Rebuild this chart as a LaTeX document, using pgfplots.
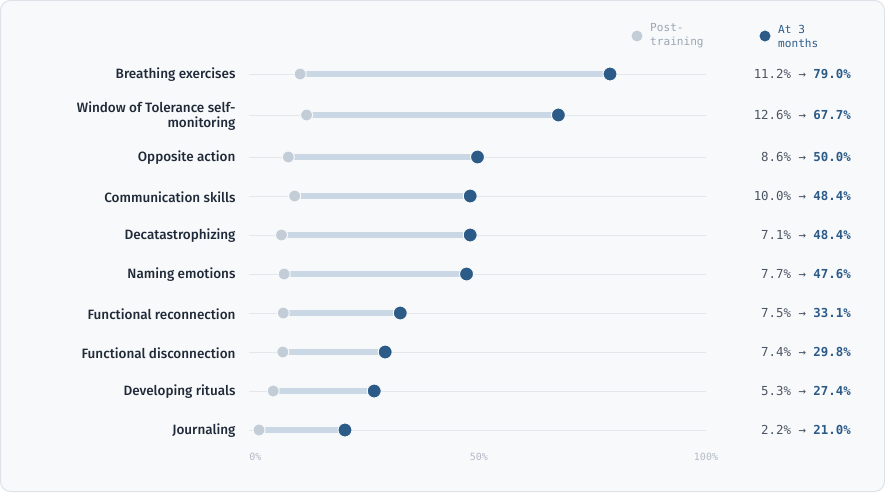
\documentclass[border=0pt]{standalone}
\usepackage{fontspec}
\usepackage{pgfplots}
\pgfplotsset{compat=1.18}
\setmainfont{Fira Sans}
\newfontfamily\labfont{Fira Sans Medium}
\newfontfamily\monofont{DejaVu Sans Mono}
\definecolor{bg}{HTML}{F8F9FB}
\definecolor{frame}{HTML}{DDE2E8}
\definecolor{gridc}{HTML}{E3E7EC}
\definecolor{barc}{HTML}{CAD7E5}
\definecolor{postc}{HTML}{C3CDD7}
\definecolor{atc}{HTML}{2C5B88}
\definecolor{labc}{HTML}{1F2937}
\definecolor{valc}{HTML}{4B5563}
\definecolor{tickc}{HTML}{B3BBC5}
\definecolor{legc}{HTML}{9AA6B2}
\pgfplotstableread{
y post at
74 11.2 79.0
115 12.6 67.7
157 8.6 50.0
196 10.0 48.4
235 7.1 48.4
274 7.7 47.6
313 7.5 33.1
352 7.4 29.8
391 5.3 27.4
430 2.2 21.0
}\datatable
\begin{document}
\begin{tikzpicture}
\fill[bg, draw=frame, rounded corners=10pt, line width=1pt] (0.5pt,-0.5pt) rectangle (884.5pt,-491.5pt);
\begin{axis}[
  at={(249pt,-450pt)}, anchor=south west,
  scale only axis, width=457pt, height=395pt,
  xmin=0, xmax=100, ymin=55, ymax=450, y dir=reverse,
  clip=false,
  axis line style={draw=none},
  major tick length=0pt,
  xtick={1.4,50.3,100}, xticklabels={0\%,50\%,100\%},
  xticklabel style={font=\monofont\fontsize{10}{11}\selectfont, text=tickc},
  ytick={74,115,157,196,235,274,313,352,391,430},
  yticklabels={Breathing exercises,{Window of Tolerance self-\\monitoring},Opposite action,Communication skills,Decatastrophizing,Naming emotions,Functional reconnection,Functional disconnection,Developing rituals,Journaling},
  yticklabel style={align=right, font=\labfont\fontsize{13.5}{15.5}\selectfont, text=labc, xshift=-10pt, yshift=-1pt},
  ymajorgrids, grid style={gridc, line width=0.8pt},
]
\addplot[barc, line width=6pt] coordinates {(11.2,74) (79.0,74)};
\addplot[barc, line width=6pt] coordinates {(12.6,115) (67.7,115)};
\addplot[barc, line width=6pt] coordinates {(8.6,157) (50.0,157)};
\addplot[barc, line width=6pt] coordinates {(10.0,196) (48.4,196)};
\addplot[barc, line width=6pt] coordinates {(7.1,235) (48.4,235)};
\addplot[barc, line width=6pt] coordinates {(7.7,274) (47.6,274)};
\addplot[barc, line width=6pt] coordinates {(7.5,313) (33.1,313)};
\addplot[barc, line width=6pt] coordinates {(7.4,352) (29.8,352)};
\addplot[barc, line width=6pt] coordinates {(5.3,391) (27.4,391)};
\addplot[barc, line width=6pt] coordinates {(2.2,430) (21.0,430)};
\addplot[only marks, mark=*, mark size=6pt, mark options={fill=postc, draw=bg, line width=1pt}] table[x=post, y=y] {\datatable};
\addplot[only marks, mark=*, mark size=7pt, mark options={fill=atc, draw=bg, line width=1pt}] table[x=at, y=y] {\datatable};
\end{axis}
\begin{scope}[every node/.style={anchor=east, font=\monofont\fontsize{12.4}{14}\selectfont, text=valc, inner sep=0pt}]
\node at (851pt,-74pt) {11.2\% → \textcolor{atc}{\bfseries 79.0\%}};
\node at (851pt,-115pt) {12.6\% → \textcolor{atc}{\bfseries 67.7\%}};
\node at (851pt,-157pt) {8.6\% → \textcolor{atc}{\bfseries 50.0\%}};
\node at (851pt,-196pt) {10.0\% → \textcolor{atc}{\bfseries 48.4\%}};
\node at (851pt,-235pt) {7.1\% → \textcolor{atc}{\bfseries 48.4\%}};
\node at (851pt,-274pt) {7.7\% → \textcolor{atc}{\bfseries 47.6\%}};
\node at (851pt,-313pt) {7.5\% → \textcolor{atc}{\bfseries 33.1\%}};
\node at (851pt,-352pt) {7.4\% → \textcolor{atc}{\bfseries 29.8\%}};
\node at (851pt,-391pt) {5.3\% → \textcolor{atc}{\bfseries 27.4\%}};
\node at (851pt,-430pt) {2.2\% → \textcolor{atc}{\bfseries 21.0\%}};
\end{scope}
\fill[postc] (637pt,-36pt) circle (5.5pt);
\node[anchor=west, align=left, font=\monofont\fontsize{11.1}{14}\selectfont, text=legc, inner sep=0pt] at (650pt,-36pt) {Post-\\training};
\fill[atc] (765pt,-36pt) circle (5.5pt);
\node[anchor=west, align=left, font=\monofont\fontsize{11.1}{14}\selectfont, text=atc, inner sep=0pt] at (778pt,-36pt) {At 3\\months};
\end{tikzpicture}
\end{document}
